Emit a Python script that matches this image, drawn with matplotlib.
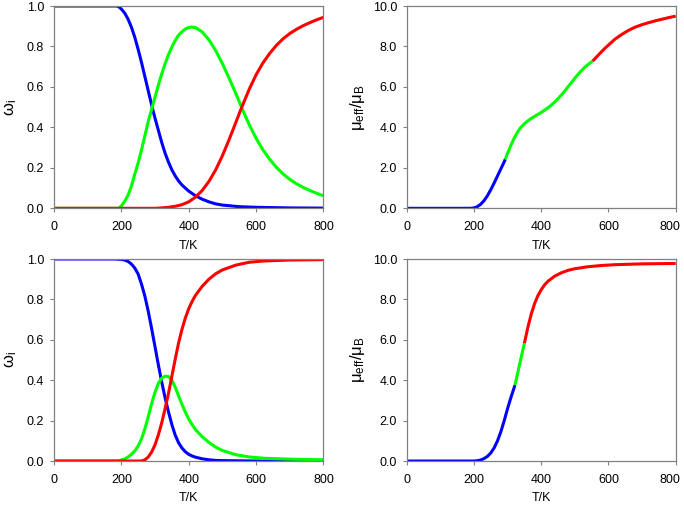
import matplotlib
matplotlib.use("Agg")
import matplotlib.pyplot as plt
from matplotlib.transforms import ScaledTranslation

plt.rcParams['font.family'] = ['Liberation Sans', 'DejaVu Sans']
plt.rcParams['mathtext.fontset'] = 'custom'
plt.rcParams['mathtext.rm'] = 'Liberation Sans'
plt.rcParams['mathtext.it'] = 'Liberation Sans'

# ---- top left: populations ----
t_tl_blue = [0, 185, 190, 195, 200, 210, 220, 230, 240, 250, 260, 270, 280, 290, 300, 310, 320,
             330, 340, 350, 360, 370, 380, 390, 400, 420, 440, 460, 480, 500, 550, 600, 700, 800]
tl_blue = [1.0, 1.0, 0.998, 0.993, 0.985, 0.965, 0.935, 0.895, 0.845, 0.785, 0.72, 0.65, 0.58, 0.51,
           0.445, 0.385, 0.325, 0.272, 0.228, 0.19, 0.16, 0.135, 0.115, 0.10, 0.085, 0.062, 0.045,
           0.032, 0.022, 0.016, 0.008, 0.005, 0.002, 0.001]

t_tl_green = [0, 190, 193, 200, 210, 220, 230, 240, 250, 260, 270, 280, 290, 300, 310, 320, 330, 340,
              350, 360, 370, 380, 390, 400, 410, 420, 440, 460, 480, 500, 520, 540, 555, 560, 580,
              600, 620, 640, 660, 680, 700, 720, 740, 760, 780, 800]
tl_green = [0.0, 0.0, 0.0, 0.012, 0.035, 0.065, 0.11, 0.17, 0.225, 0.29, 0.36, 0.43, 0.49, 0.55,
            0.61, 0.665, 0.715, 0.76, 0.797, 0.83, 0.856, 0.873, 0.886, 0.894, 0.896, 0.893, 0.872,
            0.833, 0.78, 0.715, 0.643, 0.567, 0.507, 0.487, 0.412, 0.346, 0.29, 0.243, 0.203, 0.17,
            0.143, 0.121, 0.103, 0.088, 0.074, 0.062]

t_tl_red = [0, 300, 320, 340, 360, 380, 400, 420, 440, 460, 480, 500, 520, 540, 555, 560, 580, 600,
            620, 640, 660, 680, 700, 720, 740, 760, 780, 800]
tl_red = [0.0, 0.0, 0.002, 0.005, 0.01, 0.018, 0.032, 0.055, 0.088, 0.133, 0.19, 0.26, 0.34,
          0.425, 0.49, 0.51, 0.59, 0.66, 0.718, 0.765, 0.805, 0.838, 0.864, 0.885, 0.903, 0.918,
          0.932, 0.944]

# ---- top right: mu_eff, coloured by dominant species ----
t_tr_blue = [0, 190, 200, 210, 220, 230, 240, 250, 260, 270, 280, 290, 293]
tr_blue = [0.0, 0.0, 0.02, 0.08, 0.2, 0.38, 0.62, 0.92, 1.25, 1.6, 1.95, 2.3, 2.42]
t_tr_green = [293, 300, 310, 320, 330, 340, 350, 360, 370, 380, 390, 400, 410, 420, 430, 440, 450,
              460, 470, 480, 490, 500, 510, 520, 530, 540, 553]
tr_green = [2.42, 2.72, 3.12, 3.48, 3.78, 4.01, 4.18, 4.32, 4.44, 4.54, 4.64, 4.74, 4.85, 4.97, 5.1,
            5.25, 5.42, 5.6, 5.8, 6.01, 6.22, 6.43, 6.63, 6.81, 6.98, 7.12, 7.28]
t_tr_red = [553, 560, 570, 580, 590, 600, 620, 640, 660, 680, 700, 720, 740, 760, 780, 800]
tr_red = [7.28, 7.4, 7.58, 7.75, 7.92, 8.07, 8.37, 8.6, 8.8, 8.96, 9.08, 9.18, 9.27, 9.35, 9.43, 9.5]

# ---- bottom left: populations ----
t_bl_blue = [0, 180, 200, 210, 220, 230, 240, 250, 260, 270, 280, 290, 300, 310, 320, 330, 340, 350,
             360, 370, 380, 390, 400, 410, 420, 440, 460, 480, 500, 550, 600, 800]
bl_blue = [1.0, 1.0, 0.998, 0.995, 0.988, 0.975, 0.955, 0.925, 0.875, 0.815, 0.74, 0.655, 0.565,
           0.475, 0.39, 0.312, 0.243, 0.18, 0.128, 0.09, 0.064, 0.046, 0.033, 0.025, 0.019, 0.011,
           0.006, 0.003, 0.002, 0.001, 0.0, 0.0]

t_bl_green = [0, 190, 200, 210, 220, 230, 240, 250, 260, 270, 280, 290, 300, 310, 320, 330, 340, 350,
              360, 370, 380, 390, 400, 410, 420, 440, 460, 480, 500, 540, 580, 620, 700, 800]
bl_green = [0.0, 0.0, 0.005, 0.01, 0.02, 0.033, 0.05, 0.075, 0.11, 0.16, 0.22, 0.285, 0.34,
            0.385, 0.41, 0.42, 0.418, 0.4, 0.365, 0.322, 0.28, 0.242, 0.208, 0.18, 0.156, 0.12,
            0.092, 0.069, 0.052, 0.031, 0.02, 0.014, 0.009, 0.006]

t_bl_red = [0, 260, 270, 280, 290, 300, 310, 320, 330, 340, 350, 360, 370, 380, 390, 400, 410, 420,
            440, 460, 480, 500, 540, 580, 620, 700, 800]
bl_red = [0.0, 0.0, 0.006, 0.02, 0.045, 0.08, 0.13, 0.19, 0.26, 0.335, 0.42, 0.505, 0.585, 0.652,
          0.708, 0.754, 0.79, 0.82, 0.865, 0.9, 0.927, 0.946, 0.97, 0.984, 0.99, 0.995, 0.997]

# ---- bottom right: mu_eff ----
t_br_blue = [0, 190, 200, 210, 220, 230, 240, 250, 260, 270, 280, 290, 300, 310, 322]
br_blue = [0.0, 0.0, 0.0, 0.015, 0.05, 0.12, 0.23, 0.4, 0.65, 1.0, 1.45, 2.0, 2.6, 3.15, 3.76]
t_br_green = [322, 330, 340, 350]
br_green = [3.76, 4.35, 5.1, 5.83]
t_br_red = [350, 360, 370, 380, 390, 400, 410, 420, 440, 460, 480, 500, 540, 580, 620, 700, 800]
br_red = [5.83, 6.6, 7.25, 7.78, 8.18, 8.48, 8.72, 8.9, 9.15, 9.32, 9.44, 9.52, 9.62, 9.68, 9.72,
          9.76, 9.78]

BLUE, GREEN, RED = '#0000ff', '#00ff00', '#ff0000'
LW = 2.2

fig = plt.figure(figsize=(6.84, 5.05), dpi=100)
ax_tl = fig.add_axes([0.0789, 0.5875, 0.394, 0.4006])
ax_tr = fig.add_axes([0.5946, 0.5875, 0.3933, 0.4006])
ax_bl = fig.add_axes([0.0789, 0.0871, 0.394, 0.4])
ax_br = fig.add_axes([0.5946, 0.0871, 0.3933, 0.4])


def style(ax, ymax, ylabel, lpad):
    ax.set_xlim(0, 800)
    ax.set_ylim(0, ymax)
    ax.set_xticks([0, 200, 400, 600, 800])
    ax.set_yticks([ymax * k / 5 for k in range(6)])
    ax.set_yticklabels(['%.1f' % (ymax * k / 5) for k in range(6)])
    ax.tick_params(direction='out', length=3, width=0.8, color='#808080', labelsize=9)
    ax.tick_params(axis='x', pad=6)
    ax.tick_params(axis='y', pad=4)
    for s in ax.spines.values():
        s.set_color('#808080')
        s.set_linewidth(0.9)
    ax.set_xlabel('T/K', fontsize=9, labelpad=5)
    ax.set_ylabel(ylabel, fontsize=12, labelpad=lpad)


for ax, data in [(ax_tl, [(t_tl_blue, tl_blue, BLUE), (t_tl_green, tl_green, GREEN),
                          (t_tl_red, tl_red, RED)]),
                 (ax_bl, [(t_bl_blue, bl_blue, BLUE), (t_bl_green, bl_green, GREEN),
                          (t_bl_red, bl_red, RED)])]:
    for t, v, c in data:
        ax.plot(t, v, color=c, lw=LW, solid_capstyle='butt')
    style(ax, 1.0, r'$\mathregular{ω_i}$', 6)

for ax, data in [(ax_tr, [(t_tr_blue, tr_blue, BLUE), (t_tr_green, tr_green, GREEN),
                          (t_tr_red, tr_red, RED)]),
                 (ax_br, [(t_br_blue, br_blue, BLUE), (t_br_green, br_green, GREEN),
                          (t_br_red, br_red, RED)])]:
    for t, v, c in data:
        ax.plot(t, v, color=c, lw=LW, solid_capstyle='butt')
    style(ax, 10.0, r'$\mathregular{μ_{eff}/μ_B}$', 4)
    # last x label sits at the figure edge: nudge it left so it fits
    lbl = ax.xaxis.get_major_ticks()[-1].label1
    lbl.set_transform(lbl.get_transform() + ScaledTranslation(-4 / 72, 0, fig.dpi_scale_trans))

fig.savefig('out.png', dpi=100)
